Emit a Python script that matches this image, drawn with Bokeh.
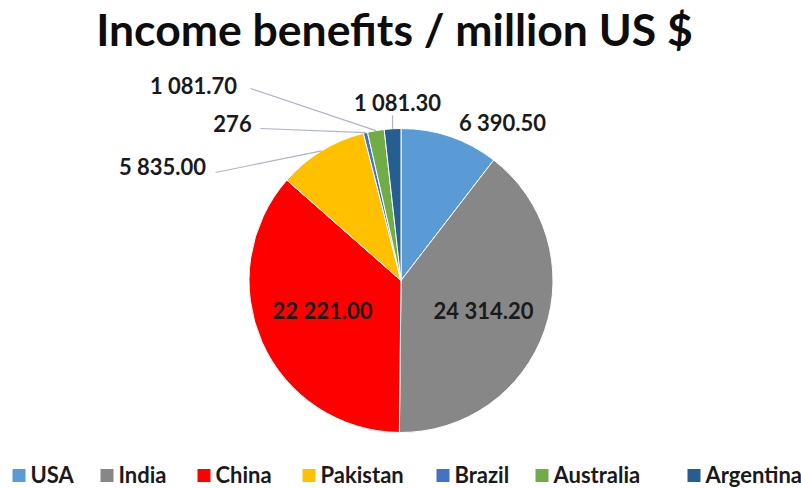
import numpy as np
from bokeh.plotting import figure
from bokeh.models import Range1d, ColumnDataSource
from bokeh.core.properties import value
from bokeh.embed import file_html
from bokeh.resources import INLINE

# ---- data ----
countries = ["USA", "India", "China", "Pakistan", "Brazil", "Australia", "Argentina"]
values = [6390.50, 24314.20, 22221.00, 5835.00, 276.0, 1081.70, 1081.30]
value_labels = ["6 390.50", "24 314.20", "22 221.00", "5 835.00", "276", "1 081.70", "1 081.30"]
colors = ["#5b9bd5", "#878787", "#ff0000", "#ffc000", "#4472c4", "#70ad47", "#255e91"]
title_text = "Income benefits / million US $"

# ---- layout (pixel coords, origin top-left) ----
W, H = 801, 488
CX, CY, R = 400.5, 280, 152
label_pos = [(502, 122), (483, 310), (322, 310), (162, 166), (232, 123), (193, 85), (397, 102)]
leader_start = {3: (215, 172), 4: (260, 128), 5: (250, 88), 6: (392, 115)}
legend_text_x = [30, 118, 215, 320, 454, 553, 705]
legend_y = 474
FONT = "Lato"

def fy(py):
    return H - py

vals = np.array(values)
tot = vals.sum()
cum = np.concatenate([[0], np.cumsum(vals)]) / tot
start = np.pi / 2 - cum[1:] * 2 * np.pi
end = np.pi / 2 - cum[:-1] * 2 * np.pi
mid = (cum[1:] + cum[:-1]) / 2 * 2 * np.pi  # clockwise from top

p = figure(width=W, height=H, x_range=Range1d(0, W), y_range=Range1d(0, H),
           output_backend="svg", toolbar_location=None, min_border=0,
           x_axis_location=None, y_axis_location=None)
p.grid.visible = False
p.outline_line_color = None
p.background_fill_color = "white"
p.border_fill_color = "white"

src = ColumnDataSource(dict(country=countries, start=start, end=end, color=colors))
p.wedge(x=CX, y=fy(CY), radius=R, start_angle="start", end_angle="end",
        fill_color="color", line_color="white", line_width=1, source=src)

# leader lines
xs, ys = [], []
for i, (sx, sy) in leader_start.items():
    ex = CX + R * np.sin(mid[i])
    ey = CY - R * np.cos(mid[i])
    xs.append([sx, ex])
    ys.append([fy(sy), fy(ey)])
p.multi_line(xs=xs, ys=ys, line_color="#aeb3c8", line_width=1.2)

# value labels
p.text(x=[q[0] for q in label_pos], y=[fy(q[1]) for q in label_pos], text=value_labels,
       text_font=value(FONT), text_font_style="bold", text_font_size="22px",
       text_align="center", text_baseline="middle", text_color="#1a1a1a")

# title
p.text(x=[394], y=[fy(28)], text=[title_text], text_font=value(FONT),
       text_font_style="bold", text_font_size="44.5px", text_align="center",
       text_baseline="middle", text_color="#0d0d0d")

# legend
p.rect(x=[x - 11.5 for x in legend_text_x], y=[fy(legend_y + 1)] * len(countries),
       width=13, height=13, fill_color=colors, line_color=None)
p.text(x=legend_text_x, y=[fy(legend_y)] * len(countries), text=countries,
       text_font=value(FONT), text_font_style="bold", text_font_size="22px",
       text_align="left", text_baseline="middle", text_color="#1a1a1a")

open("out.html", "w").write(file_html(p, INLINE))
